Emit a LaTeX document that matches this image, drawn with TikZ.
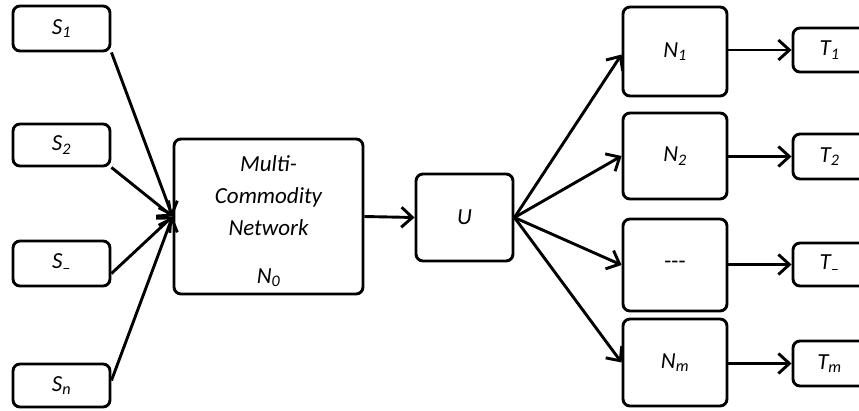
\documentclass[tikz,border=0pt]{standalone}
\usepackage{fontspec}
\setmainfont{Carlito}
\usetikzlibrary{arrows.meta}
\begin{document}
\begin{tikzpicture}[x=1pt,y=-1pt,
  lbl/.style={font=\fontsize{23}{32}\selectfont\itshape},
  box/.style={draw, line width=2.9pt, rounded corners=7pt, inner sep=0pt,
    align=center, lbl},
  arr/.style={line width=2.9pt,
    -{Straight Barb[length=11pt,width=20pt,line width=2.9pt]}}]
\clip (0,0) rectangle (859,410);
% sources
\node[box, minimum width=97pt, minimum height=45pt] (S1) at (61.5,28.5) {S\textsubscript{1}};
\node[box, minimum width=97pt, minimum height=42pt] (S2) at (61.5,145) {S\textsubscript{2}};
\node[box, minimum width=97pt, minimum height=45pt] (S3) at (61.5,263.5) {S\textsubscript{\raisebox{-0.12em}{--}}};
\node[box, minimum width=97pt, minimum height=43pt] (Sn) at (61.5,385.5) {S\textsubscript{n}};
% network
\node[box, minimum width=189pt, minimum height=155pt] (N0) at (268.5,216.5) {};
\node[lbl, align=center, anchor=north, inner sep=0pt] (N0t) at (268.5,155)
  {Multi-\\Commodity\\Network\\[16pt]N\textsubscript{0}};
\node[box, minimum width=97pt, minimum height=87pt] (U) at (464.5,217.5) {U};
% sinks networks
\node[box, minimum width=104pt, minimum height=89pt] (N1) at (675,51.5) {N\textsubscript{1}};
\node[box, minimum width=104pt, minimum height=86pt] (N2) at (675,156) {N\textsubscript{2}};
\node[box, minimum width=104pt, minimum height=92pt] (N3) at (675,265) {\upshape -{}-{}-};
\node[box, minimum width=104pt, minimum height=87pt] (Nm) at (675,362.5) {N\textsubscript{m}};
% targets
\node[box, minimum width=73pt, minimum height=44pt] (T1) at (829.5,50) {T\textsubscript{1}};
\node[box, minimum width=73pt, minimum height=45pt] (T2) at (829.5,156.5) {T\textsubscript{2}};
\node[box, minimum width=73pt, minimum height=43pt] (T3) at (829.5,264.5) {T\textsubscript{\raisebox{-0.12em}{--}}};
\node[box, minimum width=73pt, minimum height=45pt] (Tm) at (829.5,363.5) {T\textsubscript{m}};
% connectors
\draw[arr] (S1.south east) -- (N0.west);
\draw[arr] (S2.south east) -- (N0.west);
\draw[arr] ([yshift=-10pt]S3.east) -- (N0.west);
\draw[arr] ([yshift=5pt]Sn.east) -- (N0.west);
\draw[arr] (N0.east) -- (U.west);
\draw[arr] (U.east) -- ([yshift=-3pt]N1.west);
\draw[arr] (U.east) -- (N2.west);
\draw[arr] (U.east) -- (N3.west);
\draw[arr] (U.east) -- (Nm.west);
\draw[arr] (N1.east |- T1.west) -- (T1.west);
\draw[arr] (N2.east |- T2.west) -- (T2.west);
\draw[arr] (N3.east |- T3.west) -- (T3.west);
\draw[arr] (Nm.east |- Tm.west) -- (Tm.west);
\end{tikzpicture}
\end{document}
